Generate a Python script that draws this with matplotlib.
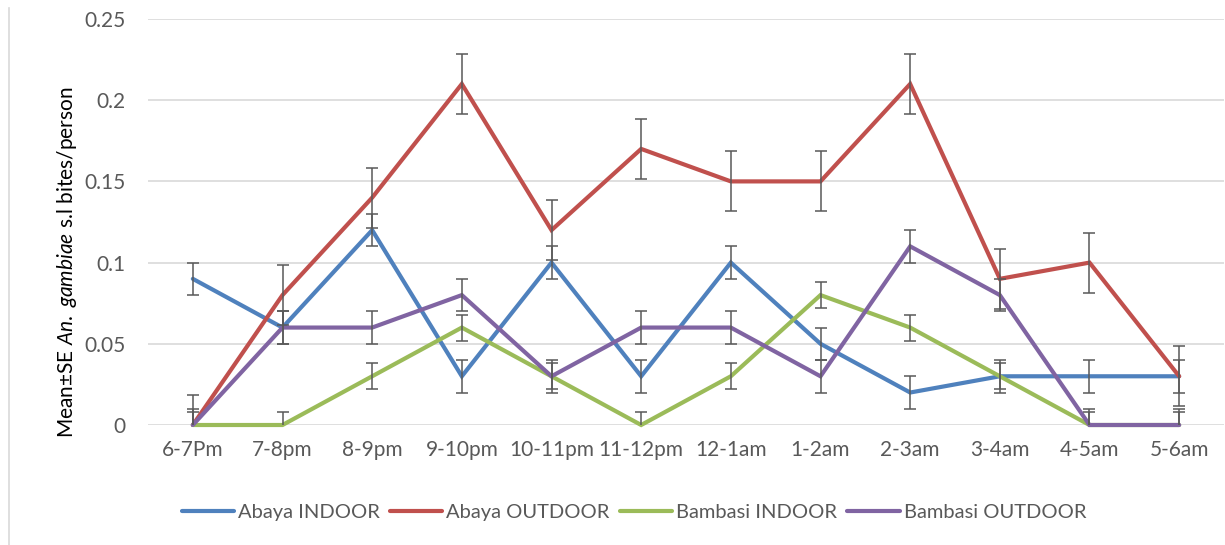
import matplotlib
matplotlib.use("Agg")
import matplotlib.pyplot as plt
from matplotlib.lines import Line2D
import numpy as np

plt.rcParams['font.family'] = ['Lato', 'DejaVu Sans']
plt.rcParams['mathtext.fontset'] = 'custom'
plt.rcParams['mathtext.rm'] = 'Lato'
plt.rcParams['mathtext.it'] = 'Lato:italic'

hours = ["6-7Pm", "7-8pm", "8-9pm", "9-10pm", "10-11pm", "11-12pm",
         "12-1am", "1-2am", "2-3am", "3-4am", "4-5am", "5-6am"]

abaya_indoor = [0.09, 0.06, 0.12, 0.03, 0.10, 0.03, 0.10, 0.05, 0.02, 0.03, 0.03, 0.03]
abaya_outdoor = [0.00, 0.08, 0.14, 0.21, 0.12, 0.17, 0.15, 0.15, 0.21, 0.09, 0.10, 0.03]
bambasi_indoor = [0.00, 0.00, 0.03, 0.06, 0.03, 0.00, 0.03, 0.08, 0.06, 0.03, 0.00, 0.00]
bambasi_outdoor = [0.00, 0.06, 0.06, 0.08, 0.03, 0.06, 0.06, 0.03, 0.11, 0.08, 0.00, 0.00]

se_abaya_indoor = 0.010
se_abaya_outdoor = 0.0185
se_bambasi_indoor = 0.008
se_bambasi_outdoor = 0.010

series_names = ["Abaya INDOOR", "Abaya OUTDOOR", "Bambasi INDOOR", "Bambasi OUTDOOR"]
series_values = [abaya_indoor, abaya_outdoor, bambasi_indoor, bambasi_outdoor]
series_se = [se_abaya_indoor, se_abaya_outdoor, se_bambasi_indoor, se_bambasi_outdoor]
colors = ["#4F81BD", "#C0504D", "#9BBB59", "#8064A2"]

W, H = 1225, 545
fig = plt.figure(figsize=(W / 100, H / 100), dpi=100)
ax = fig.add_axes([148 / W, (H - 425) / H, (1224 - 148) / W, (425 - 19) / H])

x = np.arange(len(hours))
for vals, se, col in zip(series_values, series_se, colors):
    ax.plot(x, vals, color=col, lw=3.0, solid_capstyle='round',
            solid_joinstyle='miter', clip_on=False, zorder=3)
    ax.errorbar(x, vals, yerr=se, fmt='none', ecolor="#595959",
                elinewidth=1.1, capsize=4.3, capthick=1.1, zorder=4)

ax.set_xlim(-0.5, len(hours) - 0.5)
ax.set_ylim(0, 0.25)
ax.set_yticks([0, 0.05, 0.1, 0.15, 0.2, 0.25])
ax.set_yticklabels(["0", "0.05", "0.1", "0.15", "0.2", "0.25"])
ax.set_xticks(x)
ax.set_xticklabels(hours)
ax.tick_params(axis='both', length=0, labelsize=15, labelcolor="#595959")
ax.tick_params(axis='y', pad=16)
ax.tick_params(axis='x', pad=11)
ax.grid(axis='y', color="#D9D9D9", lw=1.2)
ax.set_axisbelow(True)
for sp in ax.spines.values():
    sp.set_visible(False)

fig.text(67 / W, 1 - 262 / H, r"Mean±SE $\it{An.\ gambiae}$ s.l bites/person",
         rotation=90, ha='center', va='center', fontsize=15, color="#000000")

handles = [Line2D([], [], color=c, lw=3.0, solid_capstyle='round') for c in colors]
fig.legend(handles, series_names, loc='center', bbox_to_anchor=(634 / W, 1 - 512 / H),
           ncol=4, frameon=False, fontsize=14.5, handlelength=2.6, handletextpad=0.2,
           columnspacing=0.5, labelcolor="#595959")

fig.add_artist(Line2D([9 / W, 9 / W], [0, 1 - 8 / H], color="#D9D9D9", lw=1.2))

fig.savefig("out.png", dpi=100, facecolor="white")
